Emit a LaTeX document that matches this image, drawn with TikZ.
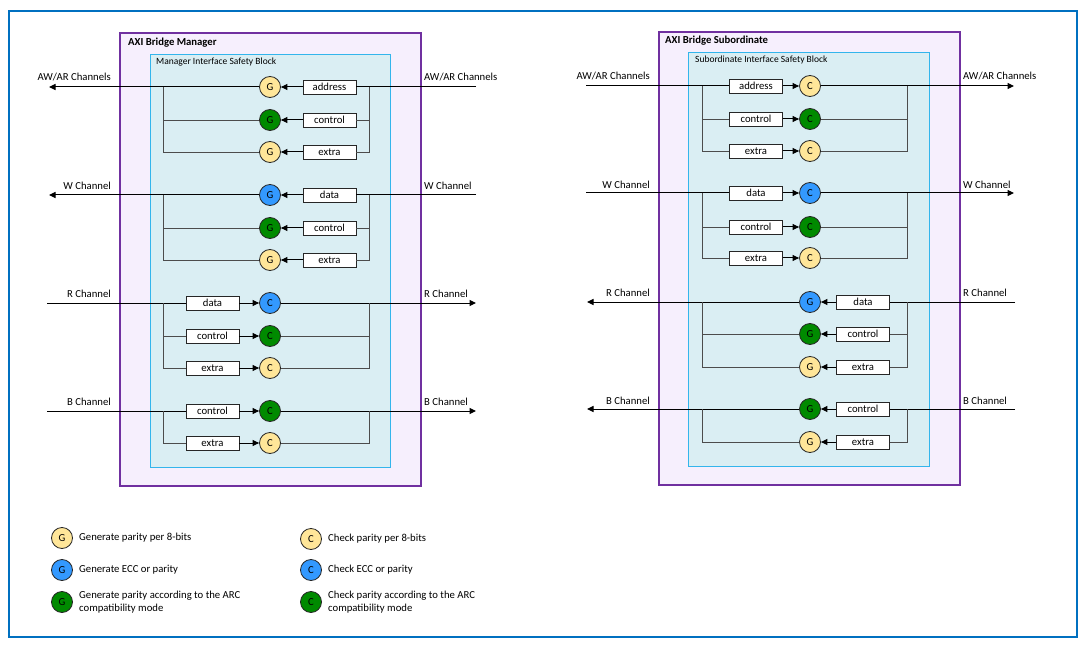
\documentclass[tikz,border=0pt]{standalone}
\usepackage{fontspec}
\setmainfont{Carlito}
\usetikzlibrary{arrows.meta,shadows}
\definecolor{parfill}{HTML}{FFE699}
\definecolor{eccfill}{HTML}{3399FF}
\definecolor{arcfill}{HTML}{008A00}
\definecolor{framecol}{HTML}{0070C0}
\definecolor{bridgecol}{HTML}{7030A0}
\definecolor{bridgefill}{HTML}{F6EFFD}
\definecolor{blockcol}{HTML}{33B5EC}
\definecolor{blockfill}{HTML}{DAEEF3}

\begin{document}
\begin{tikzpicture}[x=1pt, y=-1pt, font=\fontsize{10.7}{12.5}\selectfont,
    >={Triangle[length=6.5pt, width=6pt]}]
  \tikzstyle{field}=[draw=black!85, fill=white, line width=0.8pt, minimum width=53pt,
    minimum height=14pt, inner sep=0pt,
    drop shadow={shadow xshift=0.9pt, shadow yshift=-0.9pt, fill=black!50}]
  \tikzstyle{sig}=[circle, draw=black!85, line width=0.8pt, minimum size=21pt, inner sep=0pt]
  \tikzstyle{chan}=[black, line width=1pt]
  \tikzstyle{tap}=[black!70, line width=0.9pt]
  \tikzstyle{bridgetitle}=[anchor=west, inner sep=0pt, font=\fontsize{10.7}{12.5}\selectfont\bfseries]
  \tikzstyle{blocktitle}=[anchor=west, inner sep=0pt, font=\fontsize{9.5}{11}\selectfont]
  \tikzstyle{chantext}=[inner sep=0pt]

  \useasboundingbox (0,0) rectangle (1090,647);

  \draw[framecol, line width=1.8pt] (9,11) rectangle (1077,637);
  \draw[bridgecol, fill=bridgefill, line width=1.5pt] (120,33) rectangle (421,486);
  \draw[blockcol, fill=blockfill, line width=1pt] (150,55) rectangle (390,467);
  \draw[bridgecol, fill=bridgefill, line width=1.5pt] (659,32) rectangle (960,485);
  \draw[blockcol, fill=blockfill, line width=1pt] (688,53) rectangle (929,466);

  \node[bridgetitle] (M-title) at (128,43) {AXI Bridge Manager};
  \node[blocktitle] (M-block) at (156,62) {Manager Interface Safety Block};
  \node[bridgetitle] (S-title) at (665,41) {AXI Bridge Subordinate};
  \node[blocktitle] (S-block) at (695,60) {Subordinate Interface Safety Block};

  \foreach \g/\fx/\cx/\inx/\outx/\ib/\ob/\ltr/\rows in {
      Maw/329.5/270/476/49/369/163/G/{1/87/address/parfill,2/120/control/arcfill,3/152/extra/parfill},
      Mw/329.5/270/476/49/369/163/G/{1/195/data/eccfill,2/228/control/arcfill,3/260/extra/parfill},
      Mr/212.5/270/47/476/163/369/C/{1/303/data/eccfill,2/336/control/arcfill,3/368/extra/parfill},
      Mb/212.5/270/47/476/163/369/C/{1/411/control/arcfill,2/443/extra/parfill},
      Saw/756/810/586/1014/702/907/C/{1/86/address/parfill,2/119/control/arcfill,3/151/extra/parfill},
      Sw/756/810/586/1014/702/907/C/{1/193/data/eccfill,2/227/control/arcfill,3/258/extra/parfill},
      Sr/863/810/1015/587/907/702/G/{1/302/data/eccfill,2/334/control/arcfill,3/367/extra/parfill},
      Sb/863/810/1015/587/907/702/G/{1/409/control/arcfill,2/442/extra/parfill}} {
    \foreach \i/\y/\lab/\kind in \rows {
      \node[field] (\g-f\i) at (\fx,\y) {\lab};
      \node[sig, fill=\kind] (\g-c\i) at (\cx,\y) {\ltr};
      \draw[chan, ->] (\g-f\i) -- (\g-c\i);
      \ifnum\i=1\relax
        \coordinate (\g-in) at (\inx,\y);
        \coordinate (\g-out) at (\outx,\y);
        \coordinate (\g-ib) at (\ib,\y);
        \coordinate (\g-ob) at (\ob,\y);
        \draw[chan] (\g-in) -- (\g-f1);
        \draw[chan, ->] (\g-c1) -- (\g-out);
      \else
        \draw[tap] (\g-ib) |- (\g-f\i);
        \draw[tap] (\g-ob) |- (\g-c\i);
      \fi
    }
  }

  \foreach \n/\lx/\rx/\y/\t in {Maw/111/424/77/{AW/AR Channels}, Mw/111/424/186/W Channel,
      Mr/111/424/294/R Channel, Mb/111/424/402/B Channel,
      Saw/650/963/76/{AW/AR Channels}, Sw/650/963/185/W Channel,
      Sr/650/963/293/R Channel, Sb/650/963/401/B Channel} {
    \node[chantext, anchor=east] (\n-lt) at (\lx,\y) {\t};
    \node[chantext, anchor=west] (\n-rt) at (\rx,\y) {\t};
  }

  \foreach \n/\x/\y/\kind/\ltr/\t in {
      lg1/62/538/parfill/G/Generate parity per 8-bits,
      lg2/62/570/eccfill/G/Generate ECC or parity,
      lg3/62/602/arcfill/G/{Generate parity according to the ARC\\compatibility mode},
      lc1/311/539/parfill/C/Check parity per 8-bits,
      lc2/311/570/eccfill/C/Check ECC or parity,
      lc3/311/602/arcfill/C/{Check parity according to the ARC\\compatibility mode}} {
    \node[sig, fill=\kind] (\n) at (\x,\y) {\ltr};
    \node[anchor=west, align=left, inner sep=0pt] (\n-t) at (\x+17,\y) {\t};
  }
\end{tikzpicture}
\end{document}
